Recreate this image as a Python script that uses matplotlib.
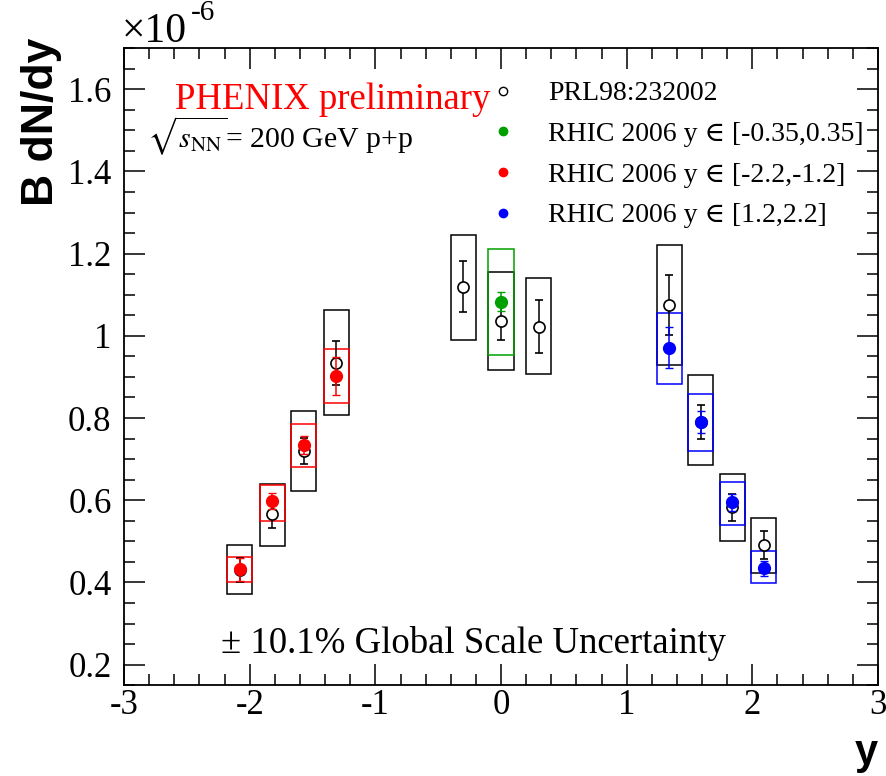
import numpy as np
import matplotlib
matplotlib.use("Agg")
import matplotlib.pyplot as plt
from matplotlib.lines import Line2D
from matplotlib.ticker import MultipleLocator, FuncFormatter

plt.rcParams['font.family'] = ['Liberation Serif', 'DejaVu Serif']
plt.rcParams['mathtext.fontset'] = 'stix'
plt.rcParams['axes.unicode_minus'] = False

# PRL98:232002 (open black circles), values in units of 1e-6
prl_x = [-2.08, -1.82, -1.57, -1.31, -0.30, 0.0, 0.30, 1.34, 1.59, 1.84, 2.09]
prl_y = [0.430, 0.566, 0.720, 0.934, 1.120, 1.037, 1.022, 1.076, 0.790, 0.583, 0.490]
prl_err = [0.030, 0.034, 0.032, 0.054, 0.063, 0.047, 0.064, 0.073, 0.042, 0.033, 0.034]
prl_sys_lo = [0.371, 0.488, 0.622, 0.807, 0.990, 0.917, 0.907, 0.929, 0.685, 0.502, 0.422]
prl_sys_hi = [0.490, 0.639, 0.817, 1.063, 1.246, 1.156, 1.141, 1.220, 0.905, 0.663, 0.556]

# RHIC 2006, mid rapidity
mid_x = [0.0]
mid_y = [1.083]
mid_err = [0.023]
mid_sys_lo = [0.954]
mid_sys_hi = [1.212]

# RHIC 2006, backward
bwd_x = [-2.08, -1.82, -1.57, -1.31]
bwd_y = [0.432, 0.598, 0.734, 0.902]
bwd_err = [0.028, 0.020, 0.022, 0.046]
bwd_sys_lo = [0.400, 0.549, 0.680, 0.837]
bwd_sys_hi = [0.463, 0.637, 0.785, 0.968]

# RHIC 2006, forward
fwd_x = [1.34, 1.59, 1.84, 2.09]
fwd_y = [0.971, 0.790, 0.595, 0.434]
fwd_err = [0.050, 0.027, 0.020, 0.018]
fwd_sys_lo = [0.883, 0.720, 0.539, 0.398]
fwd_sys_hi = [1.056, 0.859, 0.644, 0.476]

green = '#00a000'
box_w = 0.2

fig = plt.figure(figsize=(8.86, 7.76), dpi=100)
ax = fig.add_axes([0.140, 0.117, 0.851, 0.821])


def sys_boxes(x, lo, hi, color):
    lo = np.array(lo)
    hi = np.array(hi)
    ax.bar(x, hi - lo, bottom=lo, width=box_w, fill=False,
           edgecolor=color, linewidth=1.1)


sys_boxes(prl_x, prl_sys_lo, prl_sys_hi, 'black')
sys_boxes(bwd_x, bwd_sys_lo, bwd_sys_hi, 'red')
sys_boxes(mid_x, mid_sys_lo, mid_sys_hi, green)
sys_boxes(fwd_x, fwd_sys_lo, fwd_sys_hi, 'blue')

ax.errorbar(prl_x, prl_y, yerr=prl_err, fmt='o', mfc='white', mec='black',
            ms=8, mew=1.2, ecolor='black', elinewidth=1.1, capsize=3, zorder=4)
for x, y, e, c in [(bwd_x, bwd_y, bwd_err, 'red'),
                   (mid_x, mid_y, mid_err, green),
                   (fwd_x, fwd_y, fwd_err, 'blue')]:
    ax.errorbar(x, y, yerr=e, fmt='o', color=c, ms=8.5, elinewidth=1.1,
                capsize=3, zorder=5)

ax.set_xlim(-3, 3)
ax.set_ylim(0.15, 1.7)
ax.xaxis.set_major_locator(MultipleLocator(1))
ax.xaxis.set_minor_locator(MultipleLocator(0.2))
ax.yaxis.set_major_locator(MultipleLocator(0.2))
ax.yaxis.set_minor_locator(MultipleLocator(0.05))
fmt = FuncFormatter(lambda v, p: '%g' % round(v, 6))
ax.xaxis.set_major_formatter(fmt)
ax.yaxis.set_major_formatter(fmt)
ax.tick_params(which='both', direction='in', top=True, right=True, width=1.1)
ax.tick_params(which='major', length=15, labelsize=25)
ax.tick_params(axis='x', which='major', pad=3)
ax.tick_params(axis='y', which='major', pad=9)
ax.tick_params(which='minor', length=8)
for s in ax.spines.values():
    s.set_linewidth(1.3)

ax.set_ylabel('B dN/dy', family='Liberation Sans', weight='bold', fontsize=32,
              loc='top')
ax.yaxis.set_label_coords(-0.082, 1.017)
ax.set_xlabel('y', family='Liberation Sans', weight='bold', fontsize=30,
              loc='right')
ax.xaxis.set_label_coords(1.0, -0.075)

# ROOT style exponent above the axis
ax.text(-0.003, 1.0094, '×10', transform=ax.transAxes,
        fontsize=30, ha='left', va='baseline')
ax.text(0.088, 1.044, '-6', transform=ax.transAxes,
        fontsize=21, ha='left', va='baseline')

ax.text(0.067, 0.919, 'PHENIX preliminary', transform=ax.transAxes,
        color='red', fontsize=26.5, va='center')
ax.text(0.030, 0.862, r'$\sqrt{s_{\rm NN}}$= 200 GeV p+p', transform=ax.transAxes,
        fontsize=21.5, va='center')
ax.text(0.463, 0.065, '± 10.1% Global Scale Uncertainty', transform=ax.transAxes,
        fontsize=26.5, ha='center', va='center')

handles = [
    Line2D([], [], ls='none', marker='o', mfc='white', mec='black', ms=6),
    Line2D([], [], ls='none', marker='o', color=green, ms=6),
    Line2D([], [], ls='none', marker='o', color='red', ms=6),
    Line2D([], [], ls='none', marker='o', color='blue', ms=6),
]
labels = ['PRL98:232002',
          'RHIC 2006 y ∈ [-0.35,0.35]',
          'RHIC 2006 y ∈ [-2.2,-1.2]',
          'RHIC 2006 y ∈ [1.2,2.2]']
ax.legend(handles, labels, loc='upper left', bbox_to_anchor=(0.469, 0.966),
          frameon=False, fontsize=20, handlelength=1.0, handletextpad=1.15,
          labelspacing=0.55, borderaxespad=0)

fig.savefig('out.png', dpi=100)
